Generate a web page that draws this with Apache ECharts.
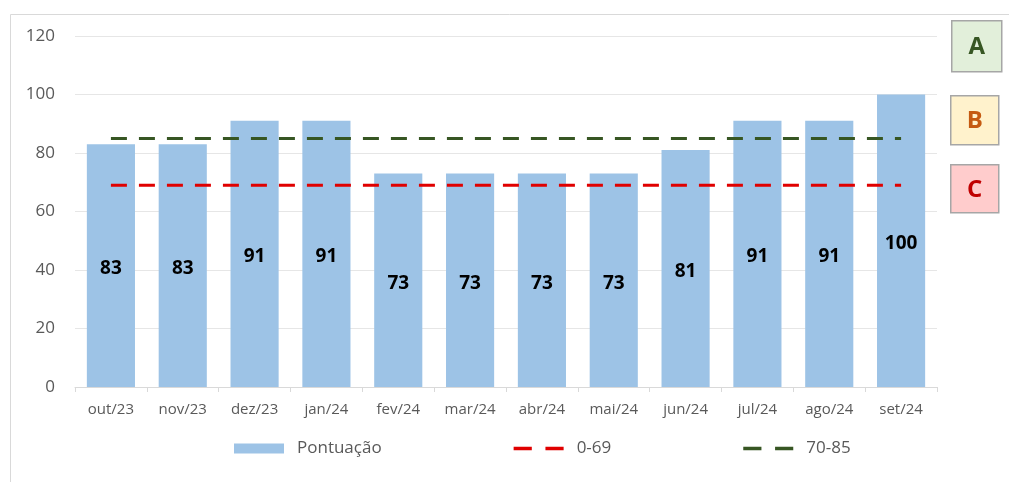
<!DOCTYPE html>
<html lang="pt-br">
<head>
<meta charset="UTF-8">
<title>Pontuação</title>
<script type="text/javascript" src="https://cdn.jsdelivr.net/npm/echarts@6/dist/echarts.min.js"></script>
<style type="text/css">
	html, body { margin:0; padding:0; background:#fff; }
	#chart { width:1009px; height:482px; }
</style>
</head>
<body>
<div id="chart"></div>
<script type="text/javascript">
	// dados
	var meses = ['out/23','nov/23','dez/23','jan/24','fev/24','mar/24','abr/24','mai/24','jun/24','jul/24','ago/24','set/24'];
	var pontuacao = [83, 83, 91, 91, 73, 73, 73, 73, 81, 91, 91, 100];
	var limiteC = [69, 69, 69, 69, 69, 69, 69, 69, 69, 69, 69, 69];
	var limiteB = [85, 85, 85, 85, 85, 85, 85, 85, 85, 85, 85, 85];
	var yTicks = [0, 20, 40, 60, 80, 100, 120];

	var fonte = '"Open Sans", "Noto Sans", sans-serif';
	// icone tracejado para a legenda das linhas
	var iconeTracejado = 'path://M0,0H16V3H0Z M28,0H44V3H28Z';

	var chart = echarts.init(document.getElementById('chart'));
	var option = {
		animation: false,
		textStyle: { fontFamily: fonte },
		grid: { left: 75, right: 72, top: 36, bottom: 95 },
		legend: {
			left: 229, top: 435,
			itemWidth: 50, itemHeight: 10, itemGap: 132,
			textStyle: { color: '#595959', fontSize: 17, fontFamily: fonte, padding: [0, 0, 0, 8] },
			data: [
				{ name: 'Pontuação', icon: 'rect' },
				{ name: '0-69', icon: iconeTracejado },
				{ name: '70-85', icon: iconeTracejado }
			]
		},
		xAxis: {
			type: 'category',
			data: meses,
			axisLine: { lineStyle: { color: '#d9d9d9' } },
			axisTick: { show: true, length: 5, lineStyle: { color: '#d9d9d9' } },
			axisLabel: { color: '#595959', fontSize: 15, margin: 15 }
		},
		yAxis: {
			type: 'value',
			min: yTicks[0], max: yTicks[yTicks.length - 1], interval: 20,
			axisLabel: { color: '#595959', fontSize: 17, margin: 20 },
			splitLine: { lineStyle: { color: '#e6e6e6' } }
		},
		series: [
			{
				name: 'Pontuação',
				type: 'bar',
				data: pontuacao,
				barWidth: '67%',
				itemStyle: { color: '#9dc3e6' },
				label: {
					show: true, position: 'inside', offset: [0, 3],
					color: '#000', fontWeight: 'bold', fontSize: 19, fontFamily: fonte
				}
			},
			{
				name: '0-69',
				type: 'line',
				data: limiteC,
				symbol: 'none',
				lineStyle: { color: '#e00000', width: 3, type: [16, 12] },
				itemStyle: { color: '#e00000' }
			},
			{
				name: '70-85',
				type: 'line',
				data: limiteB,
				symbol: 'none',
				lineStyle: { color: '#375623', width: 3, type: [16, 12] },
				itemStyle: { color: '#375623' }
			}
		],
		graphic: [
			{ type: 'polyline', shape: { points: [[10.5, 482], [10.5, 14.5], [1009, 14.5]] }, style: { stroke: '#d9d9d9', lineWidth: 1, fill: null } },
			{ type: 'group', left: 951, top: 20, children: [
				{ type: 'rect', shape: { x: 0, y: 0, width: 50, height: 51 }, style: { fill: '#e2efda', stroke: '#a6a6a6', lineWidth: 1.5 } },
				{ type: 'text', x: 25, y: 26, style: { text: 'A', fill: '#375623', font: 'bold 24px ' + fonte, align: 'center', verticalAlign: 'middle' } }
			]},
			{ type: 'group', left: 950, top: 95, children: [
				{ type: 'rect', shape: { x: 0, y: 0, width: 48, height: 49 }, style: { fill: '#fff2cc', stroke: '#a6a6a6', lineWidth: 1.5 } },
				{ type: 'text', x: 24, y: 25, style: { text: 'B', fill: '#c55a11', font: 'bold 24px ' + fonte, align: 'center', verticalAlign: 'middle' } }
			]},
			{ type: 'group', left: 950, top: 164, children: [
				{ type: 'rect', shape: { x: 0, y: 0, width: 48, height: 48 }, style: { fill: '#ffcccc', stroke: '#a6a6a6', lineWidth: 1.5 } },
				{ type: 'text', x: 24, y: 25, style: { text: 'C', fill: '#c00000', font: 'bold 24px ' + fonte, align: 'center', verticalAlign: 'middle' } }
			]}
		]
	};
	chart.setOption(option, true);
</script>
</body>
</html>
